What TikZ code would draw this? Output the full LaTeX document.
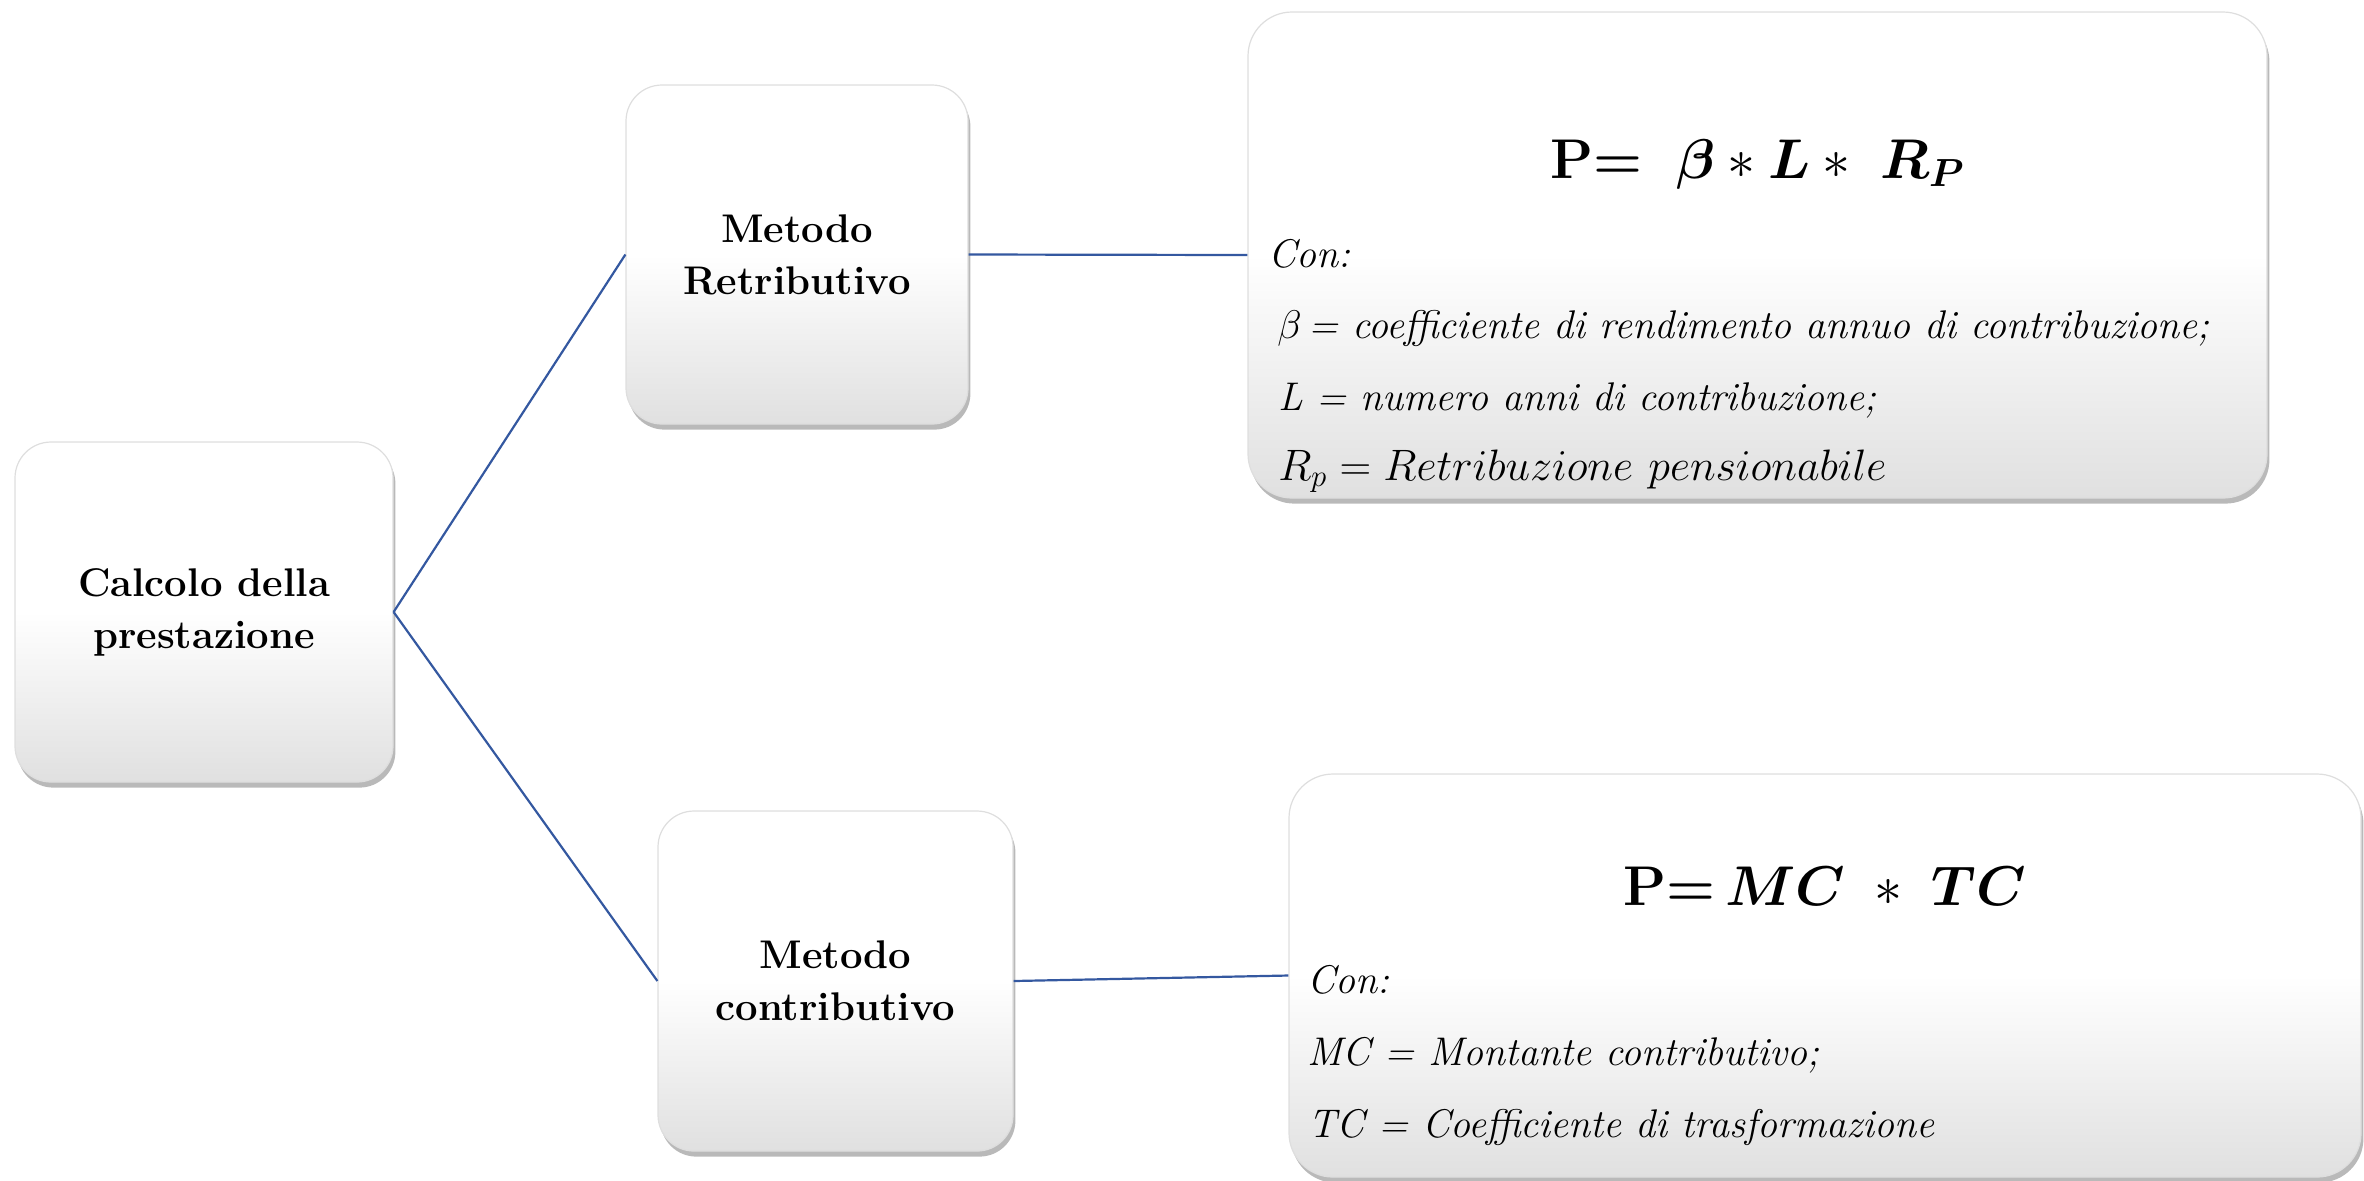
\RequirePackage{fix-cm}
\documentclass[tikz,border=0pt]{standalone}
\usepackage{fontspec}
\usepackage{amsmath,bm}
\usetikzlibrary{shadows}
\definecolor{connblue}{RGB}{52,88,160}
\definecolor{boxbot}{RGB}{224,224,224}
\definecolor{boxedge}{RGB}{222,222,222}
\tikzset{
  card/.style={rectangle, rounded corners=#1, draw=boxedge, line width=0.6pt,
    top color=white, bottom color=boxbot, middle color=white,
    drop shadow={shadow xshift=1.2pt, shadow yshift=-2.8pt, opacity=0.55, fill=black!50},
    inner sep=0pt},
  card/.default=18pt,
  lbl/.style={align=center, font=\fontsize{20}{26}\selectfont\bfseries},
  conline/.style={draw=connblue, line width=1.1pt},
  defline/.style={anchor=base west, inner sep=0pt, font=\fontsize{20}{25}\selectfont\itshape},
  formula/.style={anchor=base, inner sep=0pt, font=\fontsize{28}{34}\selectfont},
}
\begin{document}
\begin{tikzpicture}[x=0.5pt,y=-0.5pt]
\useasboundingbox (0,0) rectangle (2364,1180);
% boxes
\node[card, minimum width=189pt, minimum height=170pt, lbl] (b1) at (204,612) {Calcolo della\\prestazione};
\node[card, minimum width=171pt, minimum height=169.5pt, lbl] (b2) at (797,254.5) {Metodo\\Retributivo};
\node[card, minimum width=177.5pt, minimum height=170pt, lbl] (b3) at (835.5,981) {Metodo\\contributivo};
\node[card=22pt, minimum width=509.5pt, minimum height=243pt] (b4) at (1757.5,255) {};
\node[card=22pt, minimum width=536pt, minimum height=201.5pt] (b5) at (1825,975.5) {};
% connectors
\draw[conline] (b1.east) -- (b2.west);
\draw[conline] (b1.east) -- (b3.west);
\draw[conline] (b2.east) -- (b4.west);
\draw[conline] (b3.east) -- (b5.west);
% formula 1
\node[formula] (f1) at (1757.5,178) {\textbf{P=}\ \ $\boldsymbol{\beta}*\boldsymbol{L}*\ \boldsymbol{R_P}$};
\node[defline] (d1) at (1268,267) {Con:};
\node[defline] (d2) at (1277,338) {$\beta$\,= coefficiente di rendimento annuo di contribuzione;};
\node[defline] (d3) at (1278,410) {L = numero anni di contribuzione;};
\node[defline, font=\fontsize{22}{26}\selectfont\itshape] (d4) at (1278,480) {$R_p = Retribuzione\ pensionabile$};
% formula 2
\node[formula] (f2) at (1825,905) {\textbf{P=}$\,\boldsymbol{MC}\ *\ \boldsymbol{TC}$};
\node[defline] (e1) at (1307,993) {Con:};
\node[defline] (e2) at (1307,1065) {MC = Montante contributivo;};
\node[defline] (e3) at (1308,1137) {TC = Coefficiente di trasformazione};
\end{tikzpicture}
\end{document}
